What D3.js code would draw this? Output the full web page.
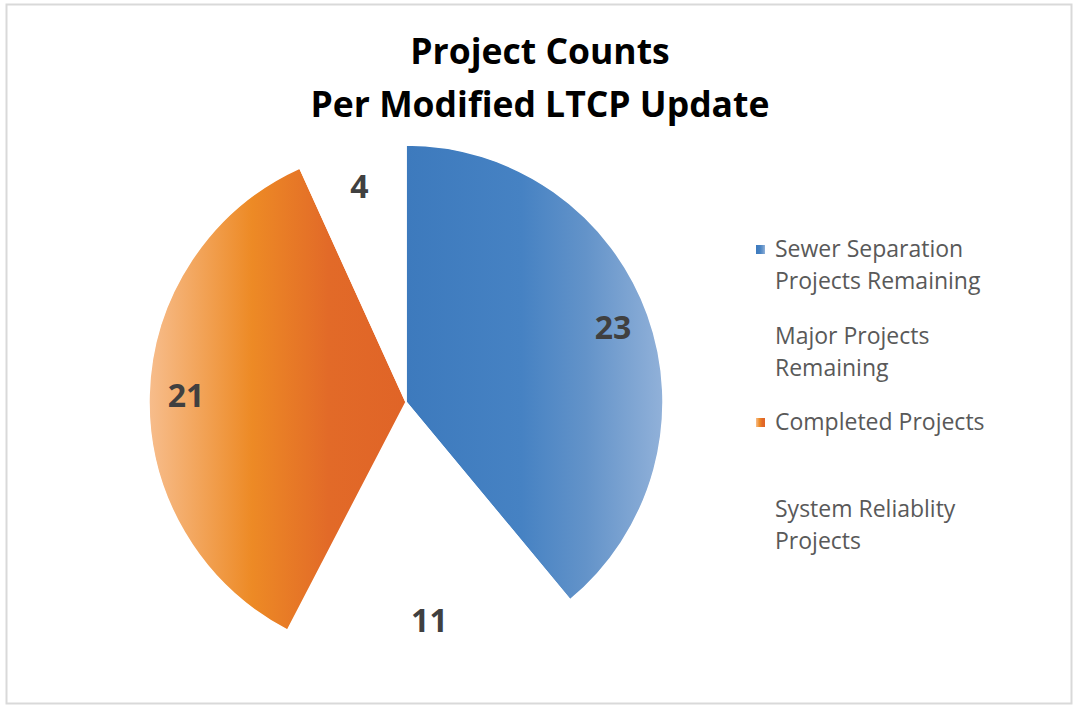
<!DOCTYPE html>
<html>
<head>
<meta charset="utf-8">
<script src="https://cdn.jsdelivr.net/npm/d3@7"></script>
<style>
  body { margin: 0; background: #fff; }
  svg { display: block; }
</style>
</head>
<body>
<div id="chart"></div>
<script>
// data
const titleLines = ["Project Counts", "Per Modified LTCP Update"];
const categories = ["Sewer Separation Projects Remaining", "Major Projects Remaining", "Completed Projects", "System Reliablity Projects"];
const legendLines = [["Sewer Separation", "Projects Remaining"], ["Major Projects", "Remaining"], ["Completed Projects"], ["System Reliablity", "Projects"]];
const values = [23, 11, 21, 4];

// gradient stops per slice (null = no fill, drawn white)
const gradients = [
    [["0%", "#3d7abd"], ["45%", "#4682c3"], ["70%", "#6393c9"], ["100%", "#91b1d9"]],
    null,
    [["0%", "#f7bd8c"], ["40%", "#ed8a25"], ["70%", "#e26a28"], ["100%", "#e06427"]],
    null
];

function init() {
    const w = 1074;
    const h = 706;

    const svg = d3.select("#chart")
        .append("svg")
        .attr("width", w)
        .attr("height", h);

    const defs = svg.append("defs");
    gradients.forEach((g, i) => {
        if (!g) return;
        const lg = defs.append("linearGradient")
            .attr("id", "grad" + i)
            .attr("x1", "0%").attr("x2", "100%")
            .attr("y1", "0%").attr("y2", "0%");
        g.forEach(s => lg.append("stop").attr("offset", s[0]).attr("stop-color", s[1]));
    });

    // outer frame
    svg.append("rect")
        .attr("x", 6.5).attr("y", 4.5)
        .attr("width", 1065).attr("height", 699)
        .attr("fill", "white")
        .attr("stroke", "#d9d9d9")
        .attr("stroke-width", 2);

    // title
    svg.append("g").selectAll("text")
        .data(titleLines)
        .enter().append("text")
        .attr("x", 540)
        .attr("y", (d, i) => 64 + i * 53)
        .attr("text-anchor", "middle")
        .attr("font-family", "Open Sans, sans-serif")
        .attr("font-weight", "bold")
        .attr("font-size", 35.5)
        .attr("fill", "#000")
        .text(d => d);

    const cx = 406, cy = 402, r = 257;

    const pie = d3.pie().sort(null).value(d => d);
    const arcs = pie(values);
    const arc = d3.arc().innerRadius(0).outerRadius(r);
    const labelArc = d3.arc().innerRadius(220).outerRadius(220);

    const g = svg.append("g").attr("transform", `translate(${cx},${cy})`);

    g.selectAll("path")
        .data(arcs)
        .enter().append("path")
        .attr("d", arc)
        .attr("fill", (d, i) => gradients[i] ? `url(#grad${i})` : "white")
        .attr("stroke", "white")
        .attr("stroke-width", 1.5);

    g.selectAll("text")
        .data(arcs)
        .enter().append("text")
        .attr("x", d => labelArc.centroid(d)[0])
        .attr("y", d => labelArc.centroid(d)[1])
        .attr("dy", "0.35em")
        .attr("text-anchor", "middle")
        .attr("font-family", "Open Sans, sans-serif")
        .attr("font-weight", "bold")
        .attr("font-size", 32)
        .attr("fill", "#404040")
        .text(d => d.value);

    // legend
    const legend = svg.append("g");
    const item = legend.selectAll("g")
        .data(categories)
        .enter().append("g")
        .attr("transform", (d, i) => `translate(775, ${257 + i * 86.5})`);

    item.append("rect")
        .attr("x", -19).attr("y", -12)
        .attr("width", 9).attr("height", 9)
        .attr("fill", (d, i) => gradients[i] ? `url(#grad${i})` : "white");

    item.each(function (d, i) {
        d3.select(this).selectAll("text")
            .data(legendLines[i])
            .enter().append("text")
            .attr("x", 0)
            .attr("y", (t, j) => j * 32)
            .attr("font-family", "Open Sans, sans-serif")
            .attr("font-size", 23)
            .attr("fill", "#595959")
            .text(t => t);
    });
}

window.onload = init;
</script>
</body>
</html>
